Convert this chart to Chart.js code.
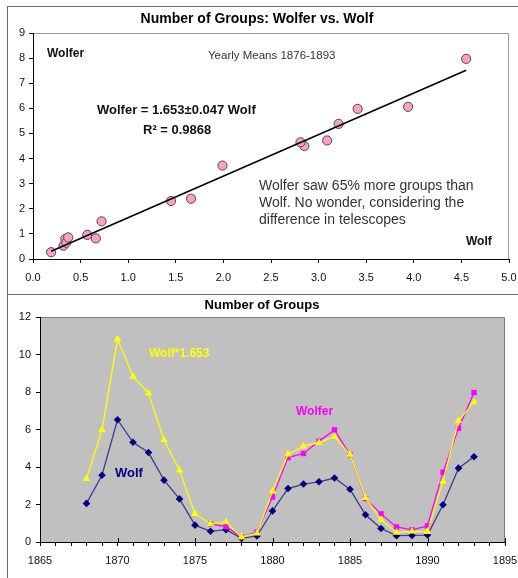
<!DOCTYPE html>
<html>
<head>
<meta charset="utf-8">
<script src="https://cdn.jsdelivr.net/npm/chart.js@4/dist/chart.umd.min.js"></script>
<style>
  html, body { margin: 0; padding: 0; background: #fff; }
  body { width: 518px; height: 578px; position: relative; overflow: hidden; font-family: 'Liberation Sans', Arial, sans-serif; }
  canvas { position: absolute; left: 0; }
  #top { top: 0; }
  #bottom { top: 296px; }
  .frame { position: absolute; background: #6a6a6a; }
</style>
</head>
<body>
<canvas id="top" width="518" height="294"></canvas>
<canvas id="bottom" width="518" height="282"></canvas>
<div class="frame" style="left:7px; top:6px; width:1px; height:572px;"></div>
<div class="frame" style="left:7px; top:6px; width:511px; height:1px;"></div>
<div class="frame" style="left:7px; top:294px; width:511px; height:1px;"></div>
<script>
// yearly means of sunspot groups
const years = [1868, 1869, 1870, 1871, 1872, 1873, 1874, 1875, 1876, 1877, 1878, 1879, 1880,
               1881, 1882, 1883, 1884, 1885, 1886, 1887, 1888, 1889, 1890, 1891, 1892, 1893];
const wolf = [2.06, 3.56, 6.52, 5.32, 4.77, 3.30, 2.30, 0.90, 0.57, 0.66, 0.19, 0.32, 1.66,
              2.85, 3.09, 3.21, 3.41, 2.81, 1.45, 0.72, 0.34, 0.35, 0.37, 1.99, 3.94, 4.55];
const wolfScaled = [3.37, 5.98, 10.82, 8.83, 7.93, 5.44, 3.83, 1.51, 0.96, 1.06, 0.27, 0.46, 2.71,
                    4.68, 5.11, 5.30, 5.62, 4.66, 2.36, 1.19, 0.51, 0.57, 0.55, 3.24, 6.47, 7.46];
// Wolfer only from 1876 on
const wolferYears = [1876, 1877, 1878, 1879, 1880, 1881, 1882, 1883, 1884,
                     1885, 1886, 1887, 1888, 1889, 1890, 1891, 1892, 1893];
const wolfer = [0.96, 0.82, 0.27, 0.53, 2.40, 4.50, 4.72, 5.38, 5.98,
                4.65, 2.31, 1.50, 0.80, 0.65, 0.86, 3.72, 6.06, 7.97];
// fitted line end points (Wolfer = 1.653 Wolf)
const trendX = [0.19, 4.55];
const trendY = [0.31, 7.52];

const FONT = "'Liberation Sans', Arial, sans-serif";
const TICK_COLOR = '#111';

function pairs(xs, ys) {
  return xs.map((x, i) => ({ x, y: ys[i] }));
}

// wolf values for the years Wolfer observed
const wolfOverlap = wolferYears.map(y => wolf[years.indexOf(y)]);

const plotFrame = {
  id: 'plotFrame',
  beforeDraw(chart, args, opts) {
    const { ctx, chartArea: a } = chart;
    ctx.save();
    if (opts.fill) {
      ctx.fillStyle = opts.fill;
      ctx.fillRect(a.left, a.top, a.right - a.left, a.bottom - a.top);
    }
    ctx.strokeStyle = opts.stroke;
    ctx.lineWidth = 1;
    ctx.beginPath();
    ctx.moveTo(a.left, a.top + 0.5);
    ctx.lineTo(a.right - 0.5, a.top + 0.5);
    ctx.lineTo(a.right - 0.5, a.bottom);
    ctx.stroke();
    ctx.restore();
  },
  afterDraw(chart, args, opts) {
    const { ctx } = chart;
    ctx.save();
    // cross ticks on major x positions
    if (opts.majorEvery) {
      const xs = chart.scales.x;
      const y0 = chart.chartArea.bottom;
      ctx.strokeStyle = '#000';
      ctx.lineWidth = 1;
      for (let v = xs.min; v <= xs.max; v += opts.majorEvery) {
        const px = Math.round(xs.getPixelForValue(v)) + 0.5;
        ctx.beginPath();
        ctx.moveTo(px, y0 - 4);
        ctx.lineTo(px, y0);
        ctx.stroke();
      }
    }
    ctx.textBaseline = 'middle';
    (opts.labels || []).forEach(l => {
      ctx.font = l.font;
      ctx.fillStyle = l.color;
      ctx.textAlign = l.align || 'left';
      ctx.fillText(l.text, l.x, l.y);
    });
    ctx.restore();
  },
};

function axis(min, max, step, size, fmt, padding) {
  return {
    type: 'linear',
    min, max,
    afterFit: s => {
      if (s.isHorizontal()) s.height = size; else s.width = size;
      // no extra room for overhanging end labels
      s.paddingLeft = s.paddingRight = s.paddingTop = s.paddingBottom = 0;
    },
    grid: { drawOnChartArea: false, drawTicks: true, tickLength: 4, color: '#000' },
    border: { display: true, color: '#000', width: 1 },
    ticks: {
      stepSize: step,
      autoSkip: false,
      maxRotation: 0,
      padding,
      color: TICK_COLOR,
      font: { family: FONT, size: 11 },
      callback: fmt,
    },
  };
}

new Chart(document.getElementById('top'), {
  type: 'scatter',
  data: {
    datasets: [
      {
        type: 'line',
        data: pairs(trendX, trendY),
        borderColor: '#000',
        borderWidth: 1.6,
        pointRadius: 0,
        fill: false,
      },
      {
        data: pairs(wolfOverlap, wolfer),
        backgroundColor: '#f9a0c8',
        borderColor: '#5a4350',
        borderWidth: 1,
        pointRadius: 4.6,
      },
    ],
  },
  options: {
    responsive: false,
    animation: false,
    layout: { padding: { top: 33, right: 9, left: 0, bottom: 0 } },
    plugins: {
      legend: { display: false },
      tooltip: { enabled: false },
      plotFrame: {
        stroke: '#9a9a9a',
        labels: [
          { text: 'Number of Groups: Wolfer vs. Wolf', x: 257, y: 19, font: `bold 14px ${FONT}`, color: '#000', align: 'center' },
          { text: 'Wolfer', x: 47, y: 54, font: `bold 12px ${FONT}`, color: '#111' },
          { text: 'Yearly Means 1876-1893', x: 208, y: 56, font: `11.5px ${FONT}`, color: '#333' },
          { text: 'Wolfer = 1.653±0.047 Wolf', x: 97, y: 110, font: `bold 13px ${FONT}`, color: '#111' },
          { text: 'R² = 0.9868', x: 143, y: 130, font: `bold 13px ${FONT}`, color: '#111' },
          { text: 'Wolfer saw 65% more groups than', x: 259, y: 186, font: `14px ${FONT}`, color: '#333' },
          { text: 'Wolf. No wonder, considering the', x: 259, y: 203, font: `14px ${FONT}`, color: '#333' },
          { text: 'difference in telescopes', x: 259, y: 220, font: `14px ${FONT}`, color: '#333' },
          { text: 'Wolf', x: 466, y: 242, font: `bold 12px ${FONT}`, color: '#111' },
        ],
      },
    },
    scales: {
      x: axis(0, 5, 0.5, 35, v => v.toFixed(1), 8),
      y: axis(0, 9, 1, 33, v => v, 4),
    },
  },
  plugins: [plotFrame],
});

new Chart(document.getElementById('bottom'), {
  type: 'line',
  data: {
    datasets: [
      {
        data: pairs(years, wolfScaled),
        borderColor: '#ffff00',
        backgroundColor: '#ffff00',
        borderWidth: 1.3,
        pointStyle: 'triangle',
        pointRadius: 4.4,
        pointBorderWidth: 0,
      },
      {
        data: pairs(wolferYears, wolfer),
        borderColor: '#ff00ff',
        backgroundColor: '#ff00ff',
        borderWidth: 1.3,
        pointStyle: 'rect',
        pointRadius: 3.8,
        pointBorderWidth: 0,
      },
      {
        data: pairs(years, wolf),
        borderColor: '#3d3d8f',
        backgroundColor: '#000080',
        borderWidth: 1.3,
        pointStyle: 'rectRot',
        pointRadius: 3.8,
        pointBorderWidth: 0,
      },
    ],
  },
  options: {
    responsive: false,
    animation: false,
    layout: { padding: { top: 21, right: 13, left: 0, bottom: 0 } },
    plugins: {
      legend: { display: false },
      tooltip: { enabled: false },
      plotFrame: {
        fill: '#c0c0c0',
        stroke: '#808080',
        majorEvery: 5,
        labels: [
          { text: 'Number of Groups', x: 262, y: 9, font: `bold 13px ${FONT}`, color: '#000', align: 'center' },
          { text: 'Wolf*1.653', x: 149, y: 58, font: `bold 12px ${FONT}`, color: '#ffff00' },
          { text: 'Wolfer', x: 296, y: 116, font: `bold 12px ${FONT}`, color: '#ff00ff' },
          { text: 'Wolf', x: 115, y: 177, font: `bold 13px ${FONT}`, color: '#000080' },
        ],
      },
    },
    scales: {
      x: axis(1865, 1895, 1, 36, v => (v % 5 === 0 ? String(v) : ''), 8),
      y: axis(0, 12, 2, 40, v => v, 5),
    },
  },
  plugins: [plotFrame],
});
</script>
</body>
</html>
